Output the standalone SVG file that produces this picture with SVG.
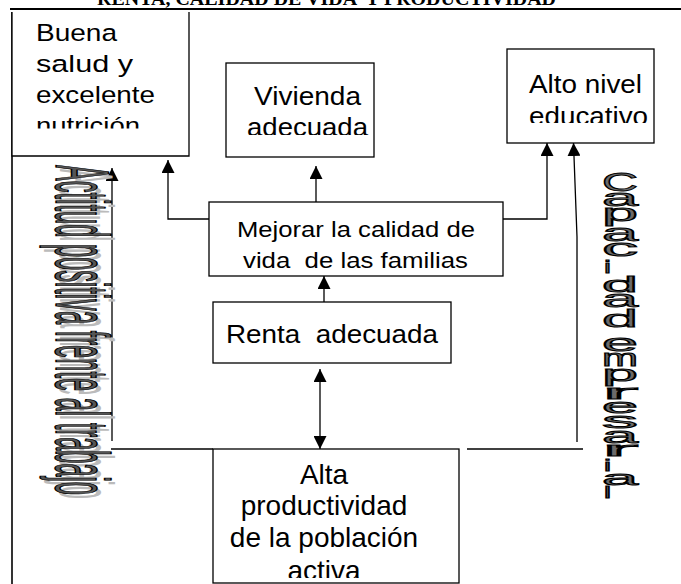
<svg xmlns="http://www.w3.org/2000/svg" width="681" height="584" viewBox="0 0 681 584">
<defs>
<marker id="ah" markerUnits="userSpaceOnUse" markerWidth="13" markerHeight="13" refX="13" refY="6.5" orient="auto-start-reverse"><path d="M0,0 L13,6.5 L0,13 z" fill="#000"/></marker>
<clipPath id="c1"><rect x="12" y="12" width="177" height="116.5"/></clipPath>
<clipPath id="c2"><rect x="226" y="63" width="148" height="72"/></clipPath>
<clipPath id="c3"><rect x="507" y="49" width="147" height="74"/></clipPath>
<clipPath id="c4"><rect x="213" y="449" width="246" height="129"/></clipPath>
</defs>
<style>
.box{fill:#fff;stroke:#000;stroke-width:1.3}
.t{font-family:"Liberation Sans",Arial,sans-serif;fill:#000;white-space:pre}
.ln{fill:none;stroke:#000;stroke-width:1.3}
.wa{font-family:"Liberation Sans",Arial,sans-serif;fill:#555;stroke:#000;stroke-width:1.5}
.sh{fill:#bbb;stroke:none}
.cp{font-family:"Liberation Sans",Arial,sans-serif;fill:#6a6a6a;stroke:#000;stroke-width:0.9}
.ttl{font-family:"Liberation Serif","Times New Roman",serif;font-weight:bold;fill:#000;white-space:pre}
</style>
<rect x="0" y="0" width="681" height="584" fill="#fff"/>
<text class="ttl" x="97" y="5" font-size="19.8" textLength="459" lengthAdjust="spacingAndGlyphs">RENTA, CALIDAD DE VIDA  Y PRODUCTIVIDAD</text>
<g id="frame" class="ln">
<line x1="10" y1="9" x2="681" y2="9" stroke-width="1.8"/>
<line x1="12" y1="12" x2="12" y2="584" stroke-width="1.6"/>
</g>
<g id="connectors" class="ln">
<polyline points="209,219 168,219 168,160" marker-end="url(#ah)"/>
<line x1="316" y1="202" x2="316" y2="166" marker-end="url(#ah)"/>
<polyline points="503,219 547,219 547,143" marker-end="url(#ah)"/>
<line x1="324" y1="302" x2="324" y2="276" marker-end="url(#ah)"/>
<line x1="320" y1="369" x2="320" y2="449" marker-start="url(#ah)" marker-end="url(#ah)"/>
<line x1="112" y1="441" x2="112" y2="168" marker-end="url(#ah)"/>
<line x1="111" y1="449" x2="213" y2="449"/>
<polyline points="577,442 577,237 573.5,143" marker-end="url(#ah)"/>
<line x1="467" y1="449" x2="583" y2="449"/>
</g>
<g id="salud">
<rect x="12" y="12" width="177" height="144" fill="#fff"/>
<path class="ln" d="M12,12 V156 H189 V12"/>
<g clip-path="url(#c1)" class="t" font-size="24.5">
<text x="36" y="41" textLength="81" lengthAdjust="spacingAndGlyphs">Buena</text>
<text x="36" y="72" textLength="97" lengthAdjust="spacingAndGlyphs">salud  y</text>
<text x="36" y="103" textLength="119" lengthAdjust="spacingAndGlyphs">excelente</text>
<text x="36" y="134" textLength="104" lengthAdjust="spacingAndGlyphs">nutrición</text>
</g>
</g>
<g id="vivienda">
<rect class="box" x="226" y="63" width="148" height="94"/>
<g clip-path="url(#c2)" class="t" font-size="25">
<text x="254" y="105" textLength="107" lengthAdjust="spacingAndGlyphs">Vivienda</text>
<text x="247" y="136" textLength="121" lengthAdjust="spacingAndGlyphs">adecuada</text>
</g>
</g>
<g id="educativo">
<rect class="box" x="507" y="49" width="147" height="94"/>
<g clip-path="url(#c3)" class="t" font-size="25">
<text x="529" y="93" textLength="113" lengthAdjust="spacingAndGlyphs">Alto nivel</text>
<text x="529" y="125" textLength="119" lengthAdjust="spacingAndGlyphs">educativo</text>
</g>
</g>
<g id="mejorar">
<rect class="box" x="209" y="202" width="294" height="74"/>
<text class="t" x="237" y="237" font-size="21.5" textLength="238" lengthAdjust="spacingAndGlyphs">Mejorar la calidad de</text>
<text class="t" x="243" y="268" font-size="21.5" textLength="225" lengthAdjust="spacingAndGlyphs">vida  de las familias</text>
</g>
<g id="renta">
<rect class="box" x="213" y="302" width="238" height="61"/>
<text class="t" x="226" y="343" font-size="25.5" textLength="212" lengthAdjust="spacingAndGlyphs">Renta  adecuada</text>
</g>
<g id="alta">
<rect class="box" x="213" y="449" width="246" height="134"/>
<g clip-path="url(#c4)" class="t" font-size="28" text-anchor="middle">
<text x="324" y="484">Alta</text>
<text x="324" y="515">productividad</text>
<text x="324" y="547">de la población</text>
<text x="324" y="580">activa</text>
</g>
</g>
<g id="actitud">
<text class="wa sh" transform="translate(60,169) rotate(90)" font-size="76" textLength="330" lengthAdjust="spacingAndGlyphs">Actitud positiva frente al trabajo</text>
<text class="wa" transform="translate(56,165) rotate(90)" font-size="76" textLength="330" lengthAdjust="spacingAndGlyphs">Actitud positiva frente al trabajo</text>
</g>
<g id="capacidad" class="cp">
<text x="602" y="191" font-size="26" textLength="36" lengthAdjust="spacingAndGlyphs">C</text>
<text x="602" y="206" font-size="23" textLength="36" lengthAdjust="spacingAndGlyphs">a</text>
<text x="602" y="221" font-size="23" textLength="36" lengthAdjust="spacingAndGlyphs">p</text>
<text x="602" y="241" font-size="23" textLength="36" lengthAdjust="spacingAndGlyphs">a</text>
<text x="602" y="256" font-size="23" textLength="36" lengthAdjust="spacingAndGlyphs">c</text>
<text x="604" y="273" font-size="19" textLength="7" lengthAdjust="spacingAndGlyphs">i</text>
<text x="602" y="292" font-size="22" textLength="36" lengthAdjust="spacingAndGlyphs">d</text>
<text x="602" y="307" font-size="23" textLength="36" lengthAdjust="spacingAndGlyphs">a</text>
<text x="602" y="327" font-size="23" textLength="36" lengthAdjust="spacingAndGlyphs">d</text>
<text x="602" y="351" font-size="23" textLength="36" lengthAdjust="spacingAndGlyphs">e</text>
<text x="602" y="366" font-size="23" textLength="36" lengthAdjust="spacingAndGlyphs">m</text>
<text x="602" y="381" font-size="22" textLength="36" lengthAdjust="spacingAndGlyphs">p</text>
<text x="602" y="399" font-size="21" textLength="36" lengthAdjust="spacingAndGlyphs">r</text>
<text x="602" y="413" font-size="21" textLength="36" lengthAdjust="spacingAndGlyphs">e</text>
<text x="602" y="428" font-size="22" textLength="36" lengthAdjust="spacingAndGlyphs">s</text>
<text x="602" y="443" font-size="22" textLength="36" lengthAdjust="spacingAndGlyphs">a</text>
<text x="602" y="456" font-size="20" textLength="36" lengthAdjust="spacingAndGlyphs">r</text>
<text x="604" y="471" font-size="16" textLength="7" lengthAdjust="spacingAndGlyphs">i</text>
<text x="602" y="485" font-size="21" textLength="36" lengthAdjust="spacingAndGlyphs">a</text>
<text x="604" y="498" font-size="16" textLength="7" lengthAdjust="spacingAndGlyphs">l</text>
</g>
</svg>
